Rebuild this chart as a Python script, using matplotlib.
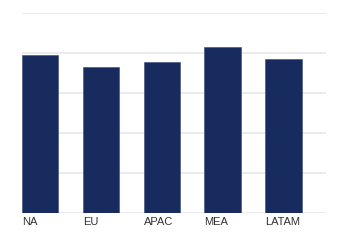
import matplotlib.pyplot as plt

regions = ['NA', 'EU', 'APAC', 'MEA', 'LATAM']
values = [79, 73, 75.5, 83, 77]

fig = plt.figure(figsize=(3.5, 2.5), dpi=100)
ax = fig.add_axes([22 / 350, 37.3 / 250, 304 / 350, 200 / 250])

x = list(range(len(regions)))
ax.bar(x, values, width=0.6, align='edge', color='#172b5f', edgecolor='#3a4c7a', linewidth=0.4, zorder=3)

ax.set_xlim(0, len(regions))
ax.set_ylim(0, 100)
ax.set_yticks([0, 20, 40, 60, 80, 100])
ax.yaxis.grid(True, color='#e6e7eb', linewidth=1.2, zorder=0)
ax.tick_params(axis='y', left=False, labelleft=False)
ax.tick_params(axis='x', length=0, pad=3)
ax.set_xticks(x)
ax.set_xticklabels(regions, ha='left', fontsize=8, color='#333333', fontfamily='Liberation Sans')
for s in ax.spines.values():
    s.set_visible(False)

fig.savefig('out.png', dpi=100)
